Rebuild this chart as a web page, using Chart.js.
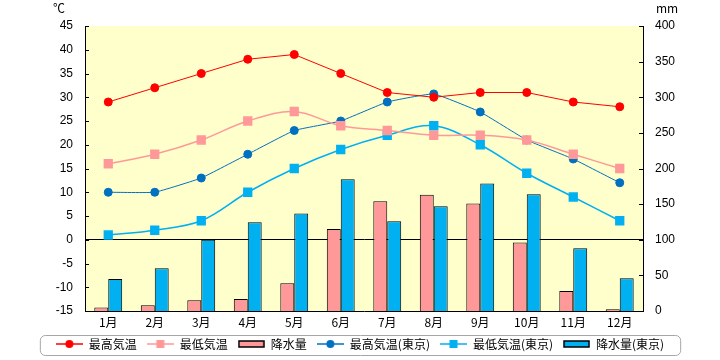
<!DOCTYPE html>
<html>
<head>
<meta charset="utf-8">
<script src="https://cdn.jsdelivr.net/npm/chart.js@4"></script>
<style>
  body { margin: 0; background: #fff; }
  #wrap { width: 720px; height: 360px; }
</style>
</head>
<body>
<div id="wrap"><canvas id="climate-chart" width="720" height="360"></canvas></div>
<script>
// Chart values
const months = ['1月', '2月', '3月', '4月', '5月', '6月', '7月', '8月', '9月', '10月', '11月', '12月'];
const maxTemp = [29, 32, 35, 38, 39, 35, 31, 30, 31, 31, 29, 28];
const minTemp = [16, 18, 21, 25, 27, 24, 23, 22, 22, 21, 18, 15];
const rainfall = [5, 8, 15, 17, 39, 115, 154, 163, 151, 96, 28, 2.5];
const maxTempTokyo = [10, 10, 13, 18, 23, 25, 29, 30.7, 26.9, 21, 17, 12];
const minTempTokyo = [1, 2, 4, 10, 15, 19, 22, 24, 20, 14, 9, 4];
const rainfallTokyo = [45, 60, 100, 124.5, 137, 185, 126, 147, 179, 164, 88, 46];
const tempTicks = [-15, -10, -5, 0, 5, 10, 15, 20, 25, 30, 35, 40, 45];
const rainTicks = [0, 50, 100, 150, 200, 250, 300, 350, 400];

const FONT = '"Noto Sans CJK JP", "Liberation Sans", sans-serif';
const NUM_FONT = '"Liberation Sans Narrow", "Liberation Sans", sans-serif';

// Small canvases used as legend symbols
function lineSymbol(color, style) {
    const c = document.createElement('canvas');
    c.width = 27; c.height = 10;
    const g = c.getContext('2d');
    g.strokeStyle = color;
    g.lineWidth = 1.5;
    g.beginPath();
    g.moveTo(0, 5); g.lineTo(27, 5);
    g.stroke();
    g.fillStyle = color;
    if (style === 'circle') {
        g.beginPath();
        g.arc(13.5, 5, 4, 0, Math.PI * 2);
        g.fill();
    } else {
        g.fillRect(9.5, 1, 8, 8);
    }
    return c;
}

function barSymbol(color) {
    const c = document.createElement('canvas');
    c.width = 27; c.height = 8;
    const g = c.getContext('2d');
    g.fillStyle = color;
    g.fillRect(1, 1, 25, 6);
    g.strokeStyle = '#000';
    g.lineWidth = 1.5;
    g.strokeRect(1, 1, 25, 6);
    return c;
}

// Plot background, inner ticks, axis units and legend frame
const decorations = {
    id: 'decorations',
    beforeDraw(chart) {
        const a = chart.chartArea;
        const ctx = chart.ctx;
        ctx.save();
        ctx.fillStyle = '#FFFFCC';
        ctx.fillRect(a.left, a.top, a.right - a.left, a.bottom - a.top);
        ctx.restore();
    },
    afterDraw(chart) {
        const ctx = chart.ctx;
        const yl = chart.scales.y;
        const yr = chart.scales.y1;
        const a = chart.chartArea;
        ctx.save();
        ctx.strokeStyle = '#000';
        ctx.lineWidth = 1;
        ctx.beginPath();
        yl.ticks.forEach((t, i) => {
            const y = Math.round(yl.getPixelForTick(i)) + 0.5;
            ctx.moveTo(a.left, y); ctx.lineTo(a.left + 4, y);
        });
        yr.ticks.forEach((t, i) => {
            const y = Math.round(yr.getPixelForTick(i)) + 0.5;
            ctx.moveTo(a.right - 4, y); ctx.lineTo(a.right, y);
        });
        ctx.stroke();

        ctx.fillStyle = '#000';
        ctx.font = '12px ' + FONT;
        ctx.textBaseline = 'middle';
        ctx.textAlign = 'center';
        ctx.fillText('℃', a.left - 26, 8);
        ctx.fillText('mm', a.right + 24, 8);

        // rounded frame round the legend
        const boxes = chart.legend.legendHitBoxes;
        if (boxes && boxes.length) {
            const left = Math.min(...boxes.map(b => b.left)) - 16;
            const right = Math.max(...boxes.map(b => b.left + b.width)) + 16;
            const top = Math.min(...boxes.map(b => b.top)) - 3;
            const bottom = Math.max(...boxes.map(b => b.top + b.height)) + 5;
            ctx.strokeStyle = '#A6A6A6';
            ctx.lineWidth = 1;
            ctx.beginPath();
            ctx.roundRect(left + 0.5, top + 0.5, right - left, bottom - top, 5);
            ctx.stroke();
        }
        ctx.restore();
    }
};

const ctx = document.getElementById('climate-chart');

new Chart(ctx, {
    data: {
        labels: months,
        datasets: [
            {
                type: 'line',
                label: '最高気温',
                data: maxTemp,
                yAxisID: 'y',
                borderColor: '#FF0000',
                backgroundColor: '#FF0000',
                borderWidth: 1,
                pointStyle: 'circle',
                pointRadius: 4,
                tension: 0,
                order: 1,
                legendSymbol: lineSymbol('#FF0000', 'circle')
            },
            {
                type: 'line',
                label: '最低気温',
                data: minTemp,
                yAxisID: 'y',
                borderColor: '#FF9999',
                backgroundColor: '#FF9999',
                borderWidth: 1.5,
                pointStyle: 'rect',
                pointRadius: 5.5,
                tension: 0.35,
                order: 1,
                legendSymbol: lineSymbol('#FF9999', 'rect')
            },
            {
                type: 'bar',
                label: '降水量',
                data: rainfall,
                yAxisID: 'y1',
                backgroundColor: '#FF9999',
                borderColor: '#000',
                borderWidth: 1,
                categoryPercentage: 0.6,
                barPercentage: 1.0,
                order: 2,
                legendSymbol: barSymbol('#FF9999')
            },
            {
                type: 'line',
                label: '最高気温(東京)',
                data: maxTempTokyo,
                yAxisID: 'y',
                borderColor: '#0070C0',
                backgroundColor: '#0070C0',
                borderWidth: 1,
                pointStyle: 'circle',
                pointRadius: 4,
                tension: 0.1,
                order: 1,
                legendSymbol: lineSymbol('#0070C0', 'circle')
            },
            {
                type: 'line',
                label: '最低気温(東京)',
                data: minTempTokyo,
                yAxisID: 'y',
                borderColor: '#00B0F0',
                backgroundColor: '#00B0F0',
                borderWidth: 1.5,
                pointStyle: 'rect',
                pointRadius: 5.5,
                tension: 0.35,
                order: 1,
                legendSymbol: lineSymbol('#00B0F0', 'rect')
            },
            {
                type: 'bar',
                label: '降水量(東京)',
                data: rainfallTokyo,
                yAxisID: 'y1',
                backgroundColor: '#00B0F0',
                borderColor: '#000',
                borderWidth: 1,
                categoryPercentage: 0.6,
                barPercentage: 1.0,
                order: 2,
                legendSymbol: barSymbol('#00B0F0')
            }
        ]
    },
    options: {
        responsive: false,
        animation: false,
        layout: {
            padding: { top: 26, left: 0, right: 0, bottom: 0 }
        },
        plugins: {
            tooltip: { enabled: false },
            legend: {
                position: 'bottom',
                labels: {
                    usePointStyle: true,
                    pointStyleWidth: 27,
                    padding: 10,
                    color: '#000',
                    font: { family: FONT, size: 12 },
                    sort: (a, b) => a.datasetIndex - b.datasetIndex,
                    generateLabels(chart) {
                        return chart.data.datasets.map((ds, i) => ({
                            text: ds.label,
                            pointStyle: ds.legendSymbol,
                            fillStyle: ds.backgroundColor,
                            strokeStyle: ds.borderColor,
                            lineWidth: 0,
                            hidden: false,
                            datasetIndex: i
                        }));
                    }
                }
            }
        },
        scales: {
            x: {
                grid: { display: false, drawTicks: false },
                border: { color: '#000', width: 1 },
                ticks: {
                    color: '#000',
                    padding: 4,
                    maxRotation: 0,
                    font: { family: FONT, size: 12 }
                },
                afterFit(scale) { scale.height = 17; }
            },
            y: {
                position: 'left',
                min: -15,
                max: 45,
                afterBuildTicks(scale) {
                    scale.ticks = tempTicks.map(v => ({ value: v }));
                },
                grid: {
                    drawTicks: false,
                    color: c => c.tick && c.tick.value === 0 ? '#000' : 'rgba(0,0,0,0)',
                    lineWidth: 1
                },
                border: { color: '#000', width: 1 },
                ticks: {
                    color: '#000',
                    padding: 12,
                    font: { family: NUM_FONT, size: 12 }
                },
                afterFit(scale) { scale.width = 85; }
            },
            y1: {
                position: 'right',
                min: 0,
                max: 400,
                afterBuildTicks(scale) {
                    scale.ticks = rainTicks.map(v => ({ value: v }));
                },
                grid: { display: false, drawTicks: false },
                border: { color: '#000', width: 1 },
                ticks: {
                    color: '#000',
                    padding: 12,
                    font: { family: NUM_FONT, size: 12 }
                },
                afterFit(scale) { scale.width = 77; }
            }
        }
    },
    plugins: [decorations]
});
</script>
</body>
</html>
